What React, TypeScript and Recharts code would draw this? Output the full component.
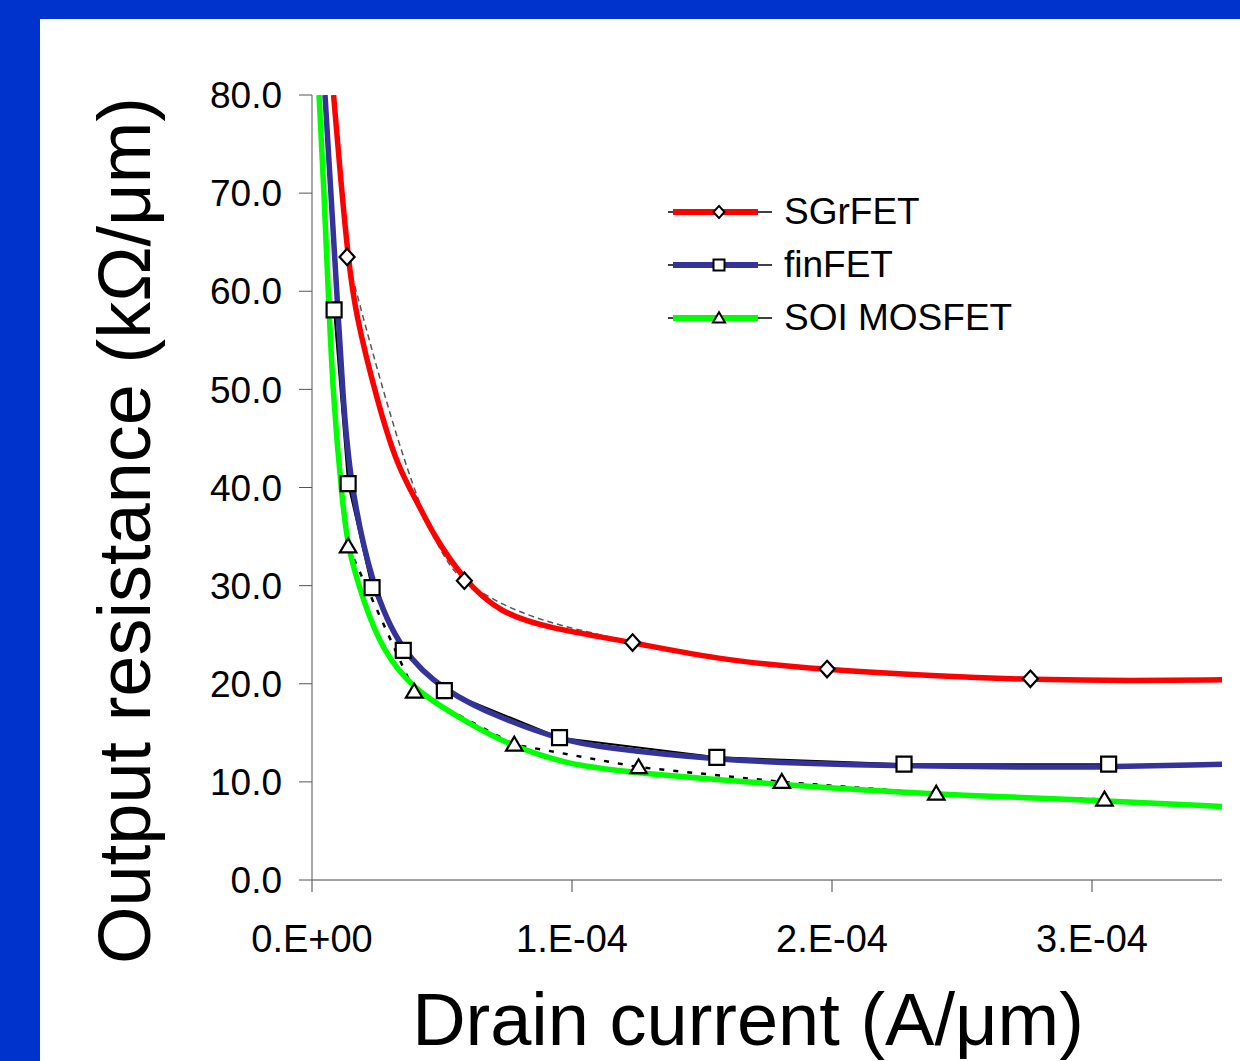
import React from 'react';
import { LineChart, Line, XAxis, YAxis, Legend, Label } from 'recharts';

const FONT = '"Liberation Sans", Arial, Helvetica, sans-serif';

// measured points (drain current A/um, output resistance kOhm/um)
const sgrfetX = [0.135e-4, 0.586e-4, 1.233e-4, 1.981e-4, 2.763e-4];
const sgrfetY = [63.5, 30.5, 24.2, 21.5, 20.5];

const finfetX = [0.085e-4, 0.139e-4, 0.231e-4, 0.351e-4, 0.509e-4, 0.952e-4, 1.557e-4, 2.277e-4, 3.064e-4];
const finfetY = [58.1, 40.4, 29.8, 23.4, 19.3, 14.5, 12.5, 11.8, 11.8];

const soiX = [0.139e-4, 0.393e-4, 0.778e-4, 1.256e-4, 1.807e-4, 2.401e-4, 3.048e-4];
const soiY = [34.0, 19.2, 13.8, 11.5, 10.0, 8.8, 8.2];

// smooth fitted curves
const sgrfetFitX = [0.083e-4, 0.114e-4, 0.139e-4, 0.166e-4, 0.25e-4, 0.328e-4, 0.416e-4, 0.462e-4, 0.582e-4, 0.724e-4, 0.906e-4, 1.237e-4, 1.572e-4, 1.985e-4, 2.382e-4, 2.782e-4, 3.152e-4, 3.5e-4];
const sgrfetFitY = [80, 70.3, 63.5, 57.8, 48.9, 42.1, 38.0, 35.4, 30.6, 27.2, 25.7, 24.2, 22.4, 21.4, 20.8, 20.4, 20.3, 20.4];

const finfetFitX = [0.05e-4, 0.072e-4, 0.095e-4, 0.119e-4, 0.146e-4, 0.231e-4, 0.339e-4, 0.509e-4, 0.724e-4, 0.956e-4, 1.11e-4, 1.561e-4, 2.073e-4, 2.651e-4, 3.064e-4, 3.5e-4];
const finfetFitY = [80, 70.3, 60.1, 49.2, 40.5, 29.9, 23.4, 19.2, 16.5, 14.3, 13.5, 12.2, 11.7, 11.5, 11.5, 11.8];

const soiFitX = [0.027e-4, 0.046e-4, 0.062e-4, 0.081e-4, 0.116e-4, 0.139e-4, 0.197e-4, 0.27e-4, 0.393e-4, 0.532e-4, 0.724e-4, 0.983e-4, 1.252e-4, 1.803e-4, 2.401e-4, 3.048e-4, 3.5e-4];
const soiFitY = [80, 70.3, 60.1, 49.2, 38.7, 33.6, 28.5, 23.4, 19.4, 17.1, 14.1, 11.7, 10.9, 9.7, 8.7, 8.1, 7.5];

const xTicks = [0, 1e-4, 2e-4, 3e-4];
const xTickLabels = ['0.E+00', '1.E-04', '2.E-04', '3.E-04'];
const yTicks = [0, 10, 20, 30, 40, 50, 60, 70, 80];

const seriesNames = ['SGrFET', 'finFET', 'SOI MOSFET'];
const seriesColors = ['#ff0000', '#333399', '#00ff00'];

const toRows = (xs: number[], ys: number[]) => xs.map((x, i) => ({ x, y: ys[i] }));

const W = 1240;
const H = 1061;
const margin = { top: 95, right: 18, bottom: 121, left: 212 };

type Shape = 'diamond' | 'square' | 'triangle';
const shapes: Shape[] = ['diamond', 'square', 'triangle'];

const markerPath = (shape: Shape, cx: number, cy: number, s: number) => {
  if (shape === 'diamond') return `M${cx},${cy - s * 1.1}L${cx + s},${cy}L${cx},${cy + s * 1.1}L${cx - s},${cy}Z`;
  if (shape === 'square') return `M${cx - s},${cy - s}H${cx + s}V${cy + s}H${cx - s}Z`;
  return `M${cx},${cy - s * 1.05}L${cx + s * 1.1},${cy + s * 0.8}L${cx - s * 1.1},${cy + s * 0.8}Z`;
};

const makeDot = (shape: Shape) => (props: any) => {
  const { cx, cy, index } = props;
  if (cx == null || cy == null) return <g key={`${shape}-${index}`} />;
  return (
    <path
      key={`${shape}-${index}`}
      d={markerPath(shape, cx, cy, 7.5)}
      fill="#fff"
      stroke="#000"
      strokeWidth={2.2}
    />
  );
};

const LegendBox = () => (
  <div style={{ fontFamily: FONT }}>
    {seriesNames.map((name, i) => (
      <div key={name} style={{ display: 'flex', alignItems: 'center', height: 53 }}>
        <svg width={110} height={24} style={{ display: 'block' }}>
          <line x1={0} y1={12} x2={104} y2={12} stroke="#000" strokeWidth={1.5} />
          <line x1={5} y1={12} x2={90} y2={12} stroke={seriesColors[i]} strokeWidth={6} />
          <path d={markerPath(shapes[i], 51, 12, 5.5)} fill="#fff" stroke="#000" strokeWidth={2} />
        </svg>
        <span style={{ fontSize: 37, color: '#000', marginLeft: 6, whiteSpace: 'pre' }}>{name}</span>
      </div>
    ))}
  </div>
);

const plotLeft = margin.left + 100;
const plotRight = W - margin.right;
const plotTop = margin.top;
const plotBottom = H - margin.bottom - 60;

const XTitle = () => (
  <text
    x={(plotLeft + plotRight) / 2 - 19}
    y={plotBottom + 165}
    textAnchor="middle"
    fontSize={74}
    fontFamily={FONT}
    fill="#000"
  >
    Drain current (A/μm)
  </text>
);

const YTitle = () => {
  const x = 150;
  const y = (plotTop + plotBottom) / 2 + 43;
  return (
    <text
      x={x}
      y={y}
      transform={`rotate(-90, ${x}, ${y})`}
      textAnchor="middle"
      fontSize={74}
      fontFamily={FONT}
      fill="#000"
    >
      Output resistance (kΩ/μm)
    </text>
  );
};

export default function App() {
  const fits = [toRows(sgrfetFitX, sgrfetFitY), toRows(finfetFitX, finfetFitY), toRows(soiFitX, soiFitY)];
  return (
    <div style={{ position: 'fixed', left: 0, top: 0, width: W, height: H, background: '#0033cc', overflow: 'hidden' }}>
      <div style={{ position: 'absolute', left: 40, top: 19, right: 0, bottom: 0, background: '#fff' }} />
      <div style={{ position: 'absolute', left: 0, top: 0 }}>
        <LineChart width={W} height={H} margin={margin}>
          <XAxis
            type="number"
            dataKey="x"
            domain={[0, 3.5e-4]}
            ticks={xTicks}
            allowDataOverflow
            height={60}
            tickSize={12}
            tickMargin={33}
            stroke="#444"
            tick={{ fill: '#000', fontSize: 38, fontFamily: FONT }}
            tickFormatter={(v: number) => xTickLabels[xTicks.indexOf(v)] ?? ''}
          >
            <Label content={XTitle} />
          </XAxis>
          <YAxis
            type="number"
            domain={[0, 80]}
            ticks={yTicks}
            allowDataOverflow
            width={100}
            tickSize={13}
            tickMargin={17}
            stroke="#555"
            tick={{ fill: '#000', fontSize: 37, fontFamily: FONT }}
            tickFormatter={(v: number) => v.toFixed(1)}
          >
            <Label content={YTitle} />
          </YAxis>
          <Legend
            layout="vertical"
            align="center"
            verticalAlign="middle"
            wrapperStyle={{ left: 668, top: 185, width: 420 }}
            content={() => <LegendBox />}
          />

          {/* measured data with markers */}
          <Line
            data={toRows(sgrfetX, sgrfetY)}
            dataKey="y"
            type="monotone"
            stroke="#555"
            strokeWidth={1.5}
            strokeDasharray="6 4"
            dot={makeDot('diamond')}
            activeDot={false}
            legendType="none"
            isAnimationActive={false}
          />
          <Line
            data={toRows(finfetX, finfetY)}
            dataKey="y"
            type="linear"
            stroke="#000"
            strokeWidth={2}
            dot={makeDot('square')}
            activeDot={false}
            legendType="none"
            isAnimationActive={false}
          />
          <Line
            data={toRows(soiX, soiY)}
            dataKey="y"
            type="linear"
            stroke="#000"
            strokeWidth={2.5}
            strokeDasharray="5 9"
            dot={makeDot('triangle')}
            activeDot={false}
            legendType="none"
            isAnimationActive={false}
          />

          {/* fitted curves */}
          {fits.map((rows, i) => (
            <Line
              key={seriesNames[i]}
              name={seriesNames[i]}
              data={rows}
              dataKey="y"
              type="basis"
              stroke={seriesColors[i]}
              strokeWidth={5.5}
              dot={false}
              activeDot={false}
              isAnimationActive={false}
            />
          ))}
        </LineChart>
      </div>
    </div>
  );
}
